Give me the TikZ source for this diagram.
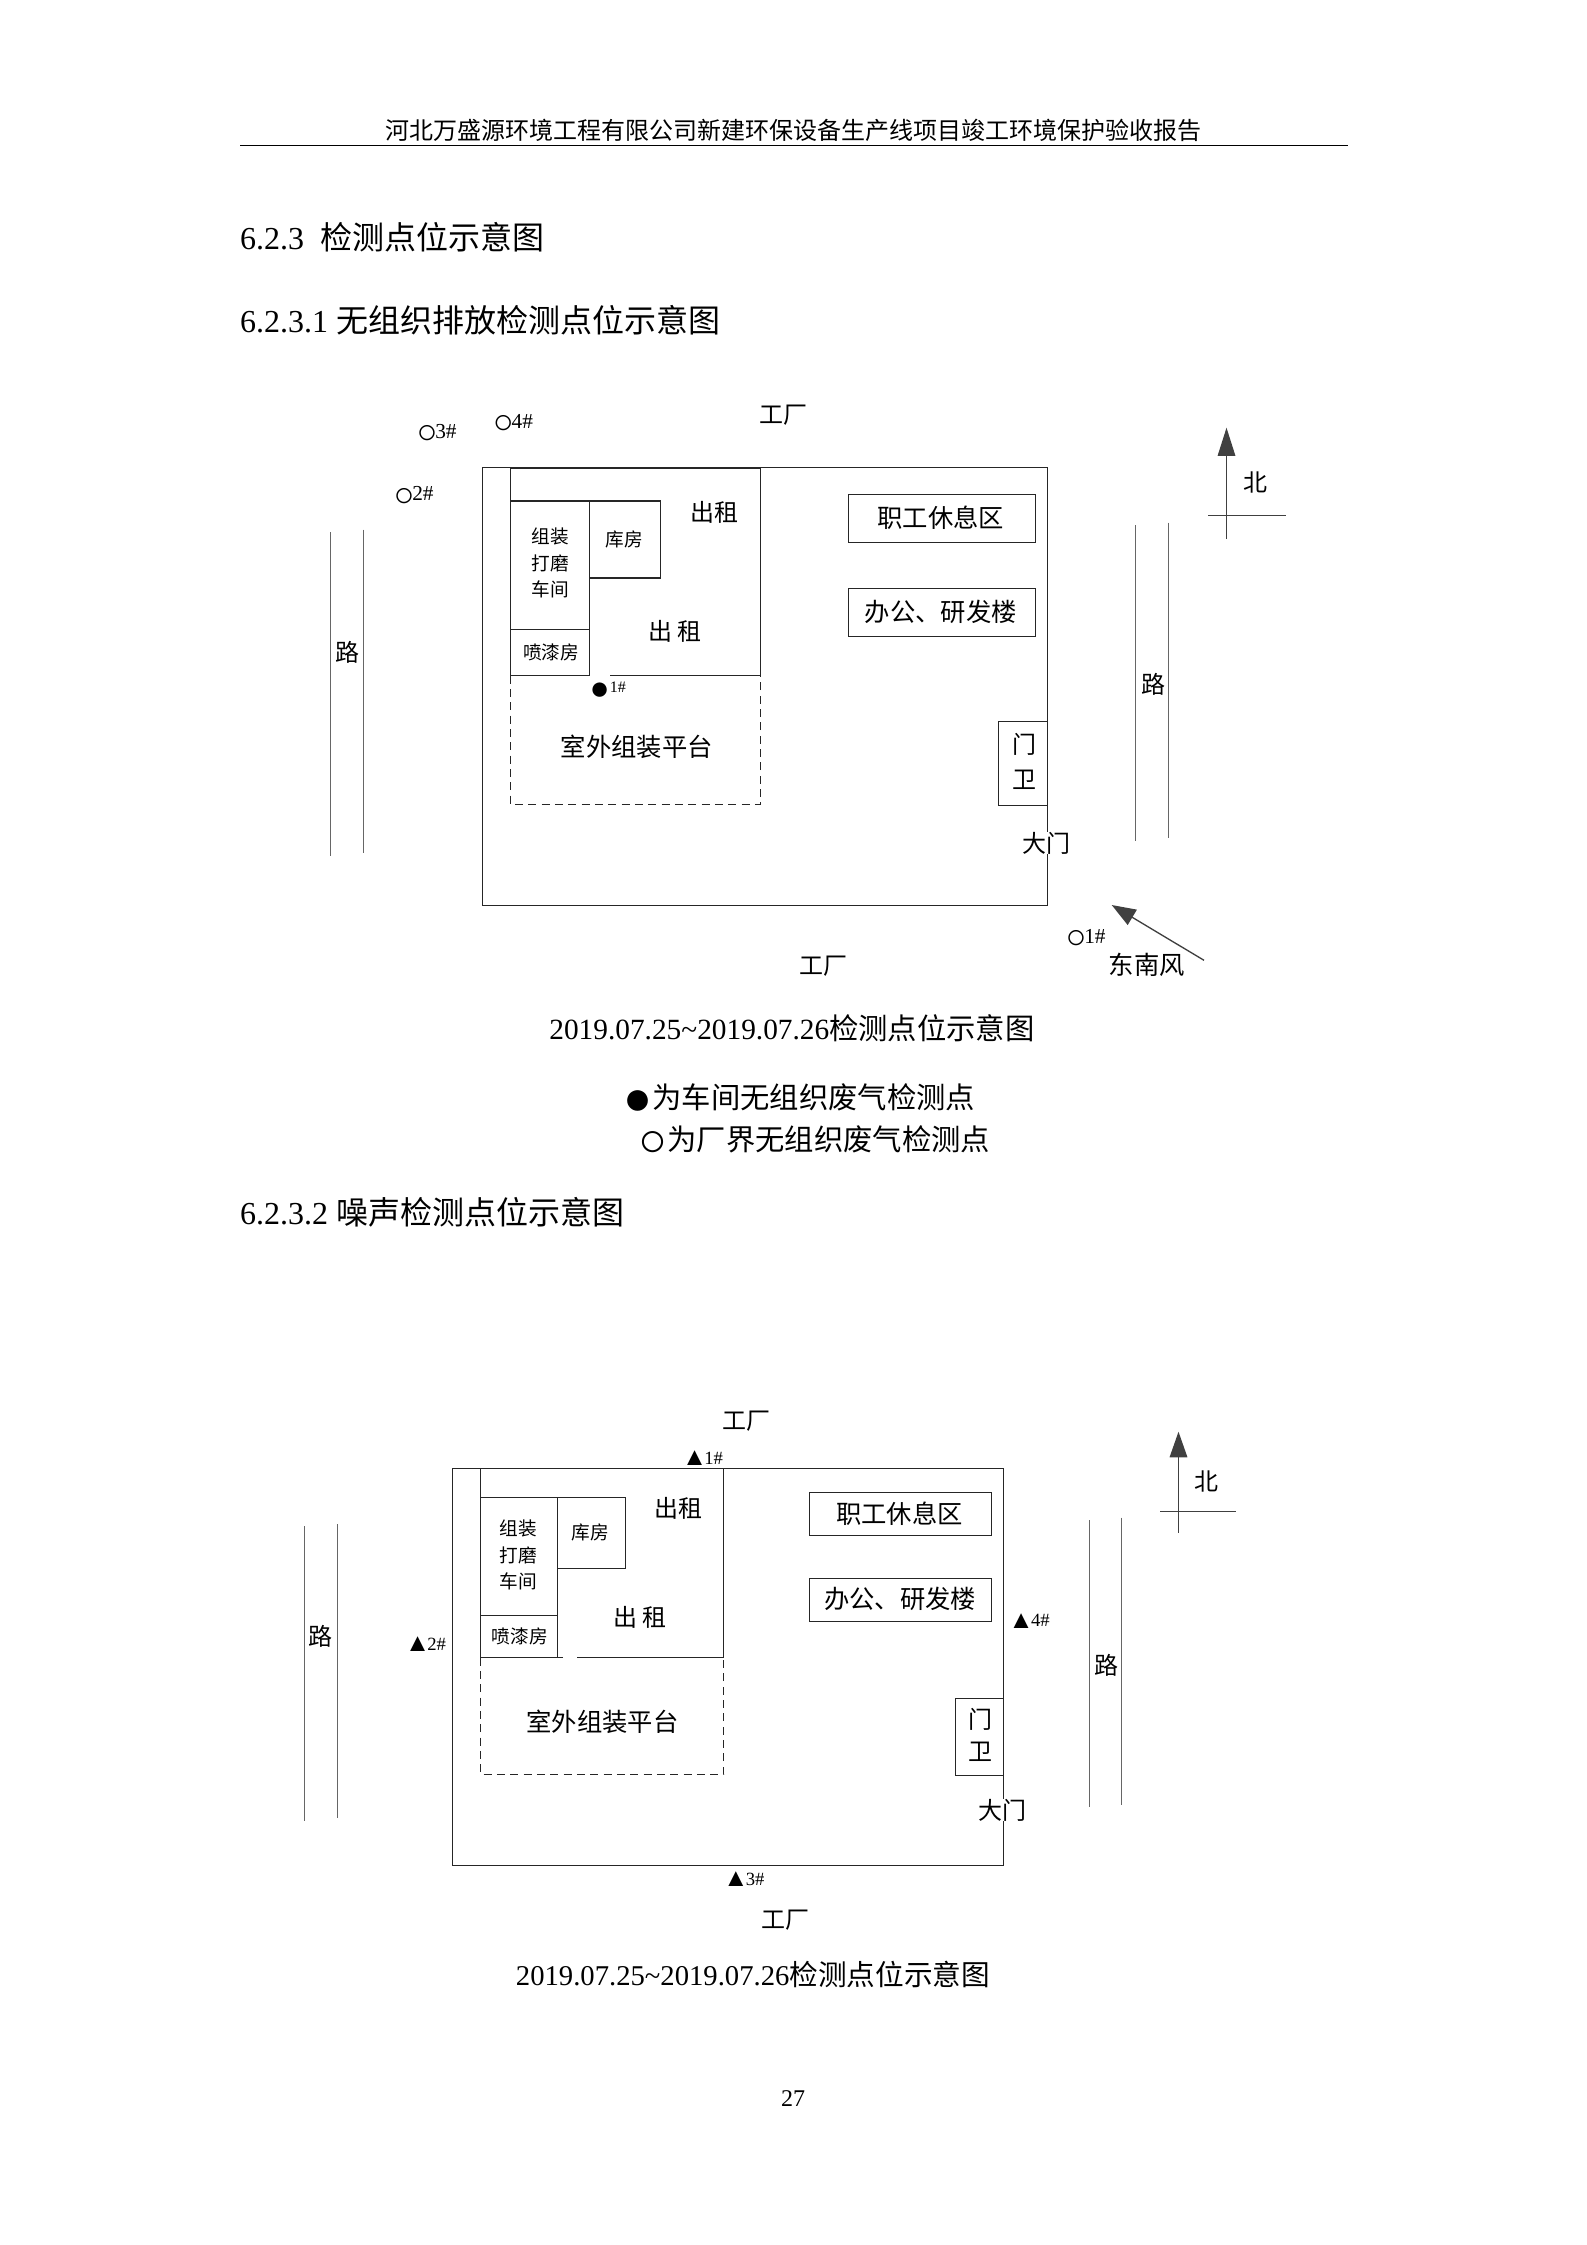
\documentclass[tikz,border=0pt]{standalone}
\usepackage{fontspec}
\setmainfont{Liberation Serif}
\newfontfamily\cjk{Noto Sans CJK SC}
\usetikzlibrary{arrows.meta}
\newcommand*{\fs}[2]{\fontsize{#1}{#2}\selectfont}
\newcommand*{\zh}[1]{{\cjk #1}}
\newcommand*{\ringpt}{\smash{\raisebox{-1.9pt}{\fs{13}{13}○}}\kern-0.8pt}
\newcommand*{\dotpt}{\smash{\raisebox{-2.4pt}{\fs{12.5}{13}●}}}
\newcommand*{\tript}{\smash{\raisebox{-0.6pt}{\fs{9.5}{10}▲}}\kern-1pt}
\tikzset{
  lbl/.style={inner sep=0pt,outer sep=0pt,align=center,font=\cjk\fs{9}{11}},
  bigroom/.style={lbl,font=\cjk\fs{9.5}{11}},
  smallroom/.style={lbl,font=\cjk\fs{7}{9.8}},
  gate/.style={lbl,font=\cjk\fs{9}{13.3}},
  pointmark/.style={inner sep=0pt,outer sep=0pt,anchor=west,font=\fs{8}{9}},
  noisemark/.style={inner sep=0pt,outer sep=0pt,anchor=west,font=\fs{7}{9}},
  wall/.style={line width=0.5pt,black!85},
  road/.style={line width=0.5pt,black!60},
  platform/.style={line width=0.5pt,black!85,dash pattern=on 3pt off 2pt},
  heading/.style={inner sep=0pt,outer sep=0pt,anchor=west,font=\fs{12}{14}},
  caption/.style={inner sep=0pt,outer sep=0pt,font=\fs{11}{13}},
  pointer/.style={line width=0.5pt,black!75,-{Triangle[length=#1,width=6.6pt]}}
}

\begin{document}
\begin{tikzpicture}[x=0.375pt,y=-0.375pt]
\useasboundingbox (0,0) rectangle (1587,2245);
% Page header
\node[inner sep=0pt,font=\cjk\fs{9}{11}] (title) at (793.7,130) {河北万盛源环境工程有限公司新建环保设备生产线项目竣工环境保护验收报告};
\draw[line width=0.5pt] (240,145.5) coordinate (ruleL) -- (1347.7,145.5) coordinate (ruleR);
\node[heading] (sec1) at (240,236.7) {6.2.3\ \ \zh{检测点位示意图}};
\node[heading] (sec2) at (240,320) {6.2.3.1 \zh{无组织排放检测点位示意图}};

% First plan: site outline
\draw[wall] (482.5,467.5) rectangle (1047.5,905.5);
% Rented block and the rooms in it
\draw[wall] (589.5,675.5) -- (510.5,675.5) -- (510.5,468.5) -- (760.5,468.5) -- (760.5,675.5) -- (609.5,675.5);
\draw[wall] (510.5,501) rectangle (589.5,629.5);
\draw[wall] (589.5,501) rectangle (660.5,578);
\draw[wall] (510.5,629.5) rectangle (589.5,675.5);
\draw[platform] (510.5,675.5) -- (510.5,804.5) -- (760.5,804.5) -- (760.5,675.5);
% Buildings on the east side
\draw[wall] (848.5,494.5) rectangle (1035.5,542.5);
\draw[wall] (848.5,588.5) rectangle (1035.5,636.5);
\draw[wall] (998.5,721.5) rectangle (1047.5,805.5);
% Room labels
\node[lbl] (rentA) at (714.3,512.5) {出租};
\node[lbl] (rentB) at (675,631) {出 租};
\node[smallroom] (shop) at (550,563) {组装\\打磨\\车间};
\node[smallroom] (store) at (624.5,539) {库房};
\node[smallroom] (paint) at (551,652.8) {喷漆房};
\node[bigroom] (yard) at (636.7,747) {室外组装平台};
\node[bigroom] (rest) at (940.8,517.6) {职工休息区};
\node[bigroom] (office) at (940.8,612) {办公、研发楼};
\node[gate] (guard) at (1024.5,761.6) {门\\卫};
\node[lbl,fill=white] (door) at (1046.4,843.4) {大门};
\node[lbl] (facN) at (783.7,414.8) {工厂};
\node[lbl] (facS) at (823,966) {工厂};
% Roads
\draw[road] (330.5,532) -- (330.5,855.7);
\draw[road] (363.5,529.5) -- (363.5,853.3);
\node[lbl] (roadW) at (347,652.8) {路};
\draw[road] (1135.5,525) -- (1135.5,840.5);
\draw[road] (1168.5,522.6) -- (1168.5,838);
\node[lbl] (roadE) at (1153,683.9) {路};
% North sign and wind
\draw[pointer=10.6pt] (1226.5,539.2) coordinate (northS) -- (1226.5,427.7) coordinate (northN);
\draw[line width=0.5pt,black!75] (1208,515.5) coordinate (crossW) -- (1286,515.5) coordinate (crossE);
\node[lbl] (north) at (1255.3,482) {北};
\draw[pointer=9pt] (1204,960.3) coordinate (windA) -- (1111.7,905) coordinate (windB);
\node[bigroom] (wind) at (1146.7,964.6) {东南风};
% Sampling points
\node[pointmark] (o1) at (1065.5,936.2) {\ringpt 1\#};
\node[pointmark] (o2) at (393.5,493.9) {\ringpt 2\#};
\node[pointmark] (o3) at (416.5,431.4) {\ringpt 3\#};
\node[pointmark] (o4) at (492.9,421) {\ringpt 4\#};
\node[pointmark,font=\fs{6}{7}] (p1) at (589.7,687.6) {\dotpt 1\#};
% Caption and legend
\node[caption] (cap1) at (792,1028.7) {2019.07.25\textasciitilde2019.07.26\zh{检测点位示意图}};
\node[caption,anchor=west] (legA) at (623.5,1097.7) {\smash{\raisebox{-2.1pt}{\fs{18}{18}●}}\zh{为车间无组织废气检测点}};
\node[caption,anchor=west] (legB) at (638.5,1139.3) {\smash{\raisebox{-2.1pt}{\fs{18}{18}○}}\zh{为厂界无组织废气检测点}};
\node[heading] (sec3) at (240,1212.7) {6.2.3.2 \zh{噪声检测点位示意图}};

% Second plan: site outline
\draw[wall] (452.5,1468.5) rectangle (1003.5,1865.5);
% Rented block and the rooms in it
\draw[wall] (563.2,1657.5) -- (480.5,1657.5) -- (480.5,1468.5) -- (723.5,1468.5) -- (723.5,1657.5) -- (577,1657.5);
\draw[wall] (480.5,1497.5) rectangle (557.5,1615.5);
\draw[wall] (557.5,1497.5) rectangle (625.5,1568.5);
\draw[wall] (480.5,1615.5) rectangle (557.5,1657.5);
\draw[platform] (480.5,1657.5) -- (480.5,1774.5) -- (723.5,1774.5) -- (723.5,1657.5);
% Buildings on the east side
\draw[wall] (809.5,1492.5) rectangle (991.5,1535.5);
\draw[wall] (809.5,1578.5) rectangle (991.5,1621.5);
\draw[wall] (955.5,1698.5) rectangle (1003.5,1775.5);
% Room labels
\node[lbl] (rentC) at (678.5,1508.6) {出租};
\node[lbl] (rentD) at (640,1617) {出 租};
\node[smallroom] (shopB) at (518.3,1555) {组装\\打磨\\车间};
\node[smallroom] (storeB) at (590.2,1532.7) {库房};
\node[smallroom] (paintB) at (519.8,1636) {喷漆房};
\node[bigroom] (yardB) at (602.4,1722) {室外组装平台};
\node[bigroom] (restB) at (899.4,1513.4) {职工休息区};
\node[bigroom] (officeB) at (900,1598.8) {办公、研发楼};
\node[gate,font=\cjk\fs{9}{11.8}] (guardB) at (980,1735) {门\\卫};
\node[lbl,fill=white] (doorB) at (1002.4,1810) {大门};
\node[lbl] (facNB) at (746.8,1421) {工厂};
\node[lbl] (facSB) at (785,1920.6) {工厂};
% Roads
\draw[road] (304.5,1526.4) -- (304.5,1821);
\draw[road] (337.5,1524.4) -- (337.5,1818.2);
\node[lbl] (roadWB) at (320.8,1636) {路};
\draw[road] (1089.5,1520) -- (1089.5,1807.3);
\draw[road] (1121.5,1517.7) -- (1121.5,1805);
\node[lbl] (roadEB) at (1106.7,1665) {路};
% North sign
\draw[pointer=9.6pt] (1178.5,1532.7) coordinate (northSB) -- (1178.5,1431.7) coordinate (northNB);
\draw[line width=0.5pt,black!75] (1160,1511.5) coordinate (crossWB) -- (1235.7,1511.5) coordinate (crossEB);
\node[lbl] (northB) at (1206.7,1481.7) {北};
% Noise points
\node[noisemark] (t1) at (682,1458) {\tript 1\#};
\node[noisemark] (t2) at (405,1643.9) {\tript 2\#};
\node[noisemark] (t3) at (723.4,1879) {\tript 3\#};
\node[noisemark] (t4) at (1008.7,1620.5) {\tript 4\#};
% Caption and page number
\node[caption,font=\fs{10.75}{13}] (cap2) at (753,1974) {2019.07.25\textasciitilde2019.07.26\zh{检测点位示意图}};
\node[inner sep=0pt,font=\fs{9}{11}] (page) at (793,2099) {27};
\end{tikzpicture}
\end{document}
